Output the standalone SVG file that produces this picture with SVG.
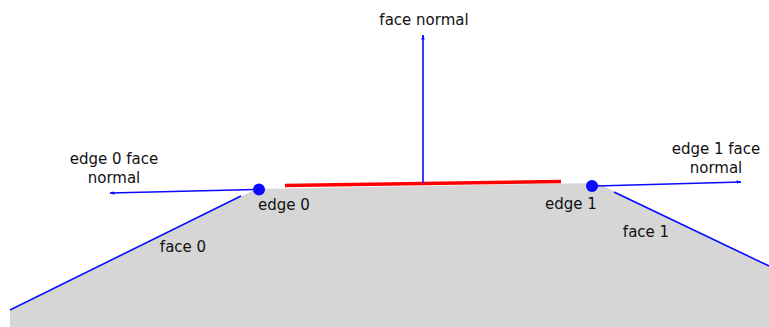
<svg xmlns="http://www.w3.org/2000/svg" width="769" height="327" viewBox="0 0 769 327">
<style>
text{font-family:"DejaVu Sans",Verdana,sans-serif;font-size:15px;fill:#111;text-anchor:middle}
.blue{stroke:#0a0aff;stroke-width:1.6;fill:none}
.arrow{stroke:#0a0aff;stroke-width:1.6;fill:none;marker-end:url(#ah)}
</style>
<defs>
<marker id="ah" viewBox="0 0 10 10" refX="9" refY="5" markerWidth="5" markerHeight="5" orient="auto" markerUnits="userSpaceOnUse">
<path d="M0,1.5 L10,5 L0,8.5 z" fill="#0a0aff"/>
</marker>
</defs>
<g id="body">
<polygon points="10,311 256,189 597,183 769,266 769,327 10,327" fill="#d6d6d6"/>
</g>
<g id="face0">
<line class="blue" x1="241" y1="196" x2="10" y2="310"/>
<text x="183" y="252">face 0</text>
</g>
<g id="face1">
<line class="blue" x1="614" y1="192" x2="769" y2="266"/>
<text x="646" y="237">face 1</text>
</g>
<g id="top-face">
<line x1="285" y1="185.5" x2="561" y2="181.5" stroke="#ff0000" stroke-width="3.5"/>
</g>
<g id="connectors">
<line class="arrow" x1="423" y1="183" x2="423" y2="35"/>
<line class="arrow" x1="255" y1="189.5" x2="110" y2="193"/>
<line class="arrow" x1="596" y1="186" x2="741" y2="182"/>
</g>
<g id="face-normal">
<text x="424" y="25">face normal</text>
</g>
<g id="edge0">
<circle cx="259" cy="189.5" r="6" fill="#0a0aff"/>
<text x="284" y="210">edge 0</text>
</g>
<g id="edge1">
<circle cx="592" cy="186" r="6" fill="#0a0aff"/>
<text x="571" y="209">edge 1</text>
</g>
<g id="edge0-normal">
<text x="114" y="164">edge 0 face</text>
<text x="114" y="183">normal</text>
</g>
<g id="edge1-normal">
<text x="716" y="154">edge 1 face</text>
<text x="716" y="173">normal</text>
</g>
</svg>
